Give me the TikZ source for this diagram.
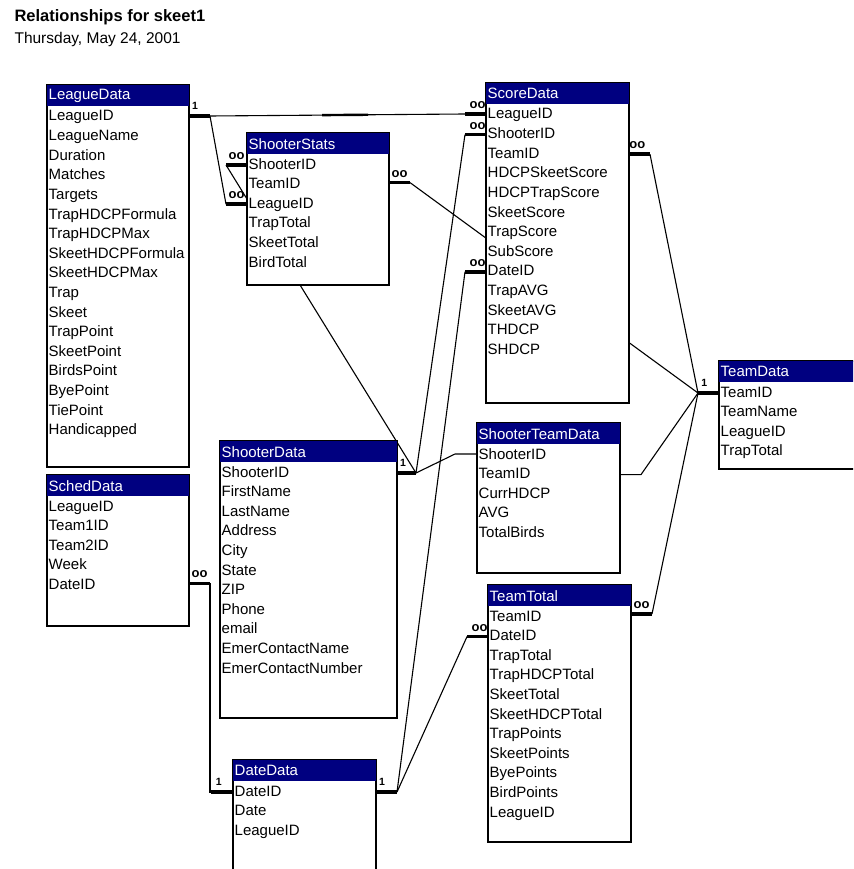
\documentclass[tikz,border=0pt]{standalone}
\usepackage{fontspec}
\setmainfont{Liberation Sans}
\usepackage{xcolor}
\usepackage{tikz}
\usetikzlibrary{calc}

\definecolor{accessnavy}{RGB}{0,0,128}

\pgfdeclarelayer{background}
\pgfsetlayers{background,main}

% table: name, x, y, width, height, title, fields
\newcommand{\dbtable}[7]{%
  \node[tablebox, minimum width=#4pt, minimum height=#5pt] (#1) at (#2,#3) {};
  \node[titlebar, text width=#4pt] (#1-title) at (#1.north west) {\hspace{1.5pt}#6};
  \foreach \fld [count=\i] in {#7}
    \node[field] (#1-\i) at ($(#1.north west)+(1.5,{32+19.6*(\i-1)})$) {\fld};
}

\begin{document}
\begin{tikzpicture}[x=1pt, y=-1pt,
  tablebox/.style={draw, line width=1.4pt, fill=white, anchor=north west, inner sep=0pt, outer sep=0pt},
  titlebar/.style={fill=accessnavy, text=white, anchor=north west, inner xsep=0pt, inner ysep=0pt,
    minimum height=21pt, align=left, font=\fontsize{15}{17}\selectfont},
  field/.style={anchor=west, inner sep=0pt, text height=11pt, text depth=3pt, font=\fontsize{15}{17}\selectfont},
  stub/.style={line width=3.5pt},
  rel/.style={line width=1.1pt},
  onemark/.style={inner sep=0pt, font=\bfseries\fontsize{10.5}{11}\selectfont},
  manymark/.style={inner sep=0pt, font=\bfseries\fontsize{13}{13}\selectfont}]

\useasboundingbox (0,0) rectangle (853,869);
\clip (0,0) rectangle (853,869);

% --- heading ---
\node[anchor=base west, font=\bfseries\fontsize{16.5}{18}\selectfont] (heading) at (11,22) {Relationships for skeet1};
\node[anchor=base west, font=\fontsize{15.5}{18}\selectfont] (printdate) at (11,44) {Thursday, May 24, 2001};

% --- tables ---
\dbtable{leaguedata}{47}{85}{142}{382}{LeagueData}{LeagueID, LeagueName, Duration, Matches, Targets,
  TrapHDCPFormula, TrapHDCPMax, SkeetHDCPFormula, SkeetHDCPMax, Trap, Skeet, TrapPoint, SkeetPoint,
  BirdsPoint, ByePoint, TiePoint, Handicapped}
\dbtable{shooterstats}{247}{133}{142}{152}{ShooterStats}{ShooterID, TeamID, LeagueID, TrapTotal, SkeetTotal, BirdTotal}
\dbtable{scoredata}{486}{83}{143}{320}{ScoreData}{LeagueID, ShooterID, TeamID, HDCPSkeetScore, HDCPTrapScore,
  SkeetScore, TrapScore, SubScore, DateID, TrapAVG, SkeetAVG, THDCP, SHDCP}
\dbtable{teamdata}{719}{361}{143}{108}{TeamData}{TeamID, TeamName, LeagueID, TrapTotal}
\dbtable{shooterteam}{477}{423}{143}{150}{ShooterTeamData}{ShooterID, TeamID, CurrHDCP, AVG, TotalBirds}
\dbtable{scheddata}{47}{475}{142}{151}{SchedData}{LeagueID, Team1ID, Team2ID, Week, DateID}
\dbtable{shooterdata}{220}{441}{177}{277}{ShooterData}{ShooterID, FirstName, LastName, Address, City, State,
  ZIP, Phone, email, EmerContactName, EmerContactNumber}
\dbtable{datedata}{233}{760}{143}{140}{DateData}{DateID, Date, LeagueID}
\dbtable{teamtotal}{488}{585}{143}{257}{TeamTotal}{TeamID, DateID, TrapTotal, TrapHDCPTotal, SkeetTotal,
  SkeetHDCPTotal, TrapPoints, SkeetPoints, ByePoints, BirdPoints, LeagueID}

% --- stub ends ---
\coordinate (lg-a) at ($(leaguedata.east |- leaguedata-1)+(0,-1)$);
\coordinate (lg-b) at ($(lg-a)+(21,0)$);
\coordinate (sc1-a) at ($(scoredata.west |- scoredata-1)+(0,-1)$);
\coordinate (sc1-b) at ($(sc1-a)+(-21,0)$);
\coordinate (sc2-a) at (scoredata.west |- scoredata-2);
\coordinate (sc2-b) at ($(sc2-a)+(-21,0)$);
\coordinate (sc9-a) at (scoredata.west |- scoredata-9);
\coordinate (sc9-b) at ($(sc9-a)+(-21,0)$);
\coordinate (sc3-a) at (scoredata.east |- scoredata-3);
\coordinate (sc3-b) at ($(sc3-a)+(21,0)$);
\coordinate (ss1-a) at (shooterstats.west |- shooterstats-1);
\coordinate (ss1-b) at ($(ss1-a)+(-21,0)$);
\coordinate (ss3-a) at (shooterstats.west |- shooterstats-3);
\coordinate (ss3-b) at ($(ss3-a)+(-21,0)$);
\coordinate (ss2-a) at ($(shooterstats.east |- shooterstats-2)+(0,-2)$);
\coordinate (ss2-b) at ($(ss2-a)+(21,0)$);
\coordinate (td-a) at (teamdata.west |- teamdata-1);
\coordinate (td-b) at ($(td-a)+(-21,0)$);
\coordinate (sd-a) at (shooterdata.east |- shooterdata-1);
\coordinate (sd-b) at ($(sd-a)+(19,0)$);
\coordinate (tt1-a) at ($(teamtotal.east |- teamtotal-1)+(0,-3)$);
\coordinate (tt1-b) at ($(tt1-a)+(21,0)$);
\coordinate (tt2-a) at (teamtotal.west |- teamtotal-2);
\coordinate (tt2-b) at ($(tt2-a)+(-21,0)$);
\coordinate (dr-a) at (datedata.east |- datedata-1);
\coordinate (dr-b) at ($(dr-a)+(21,0)$);
\coordinate (dl-a) at (datedata.west |- datedata-1);
\coordinate (dl-b) at ($(dl-a)+(-22,0)$);
\coordinate (sh5-a) at ($(scheddata.east |- scheddata-5)+(0,-2)$);
\coordinate (sh5-b) at ($(sh5-a)+(21,0)$);
\coordinate (stm-l) at ($(shooterteam.west |- shooterteam-1)+(-22,-1)$);
\coordinate (stm-r) at ($(shooterteam.east |- shooterteam-2)+(21,0)$);

% --- relationship lines (behind the tables) ---
\begin{pgfonlayer}{background}
\fill[white] (0,0) rectangle (853,869);

\draw[rel] (lg-b) -- (sc1-b);
\draw[line width=2.4pt] ($(lg-b)!0.44!(sc1-b)$) -- ($(lg-b)!0.62!(sc1-b)$); % heavier piece on it
\draw[rel] (lg-b) -- (ss3-b);
\draw[rel] (sd-b) -- (ss1-b);
\draw[rel] (sd-b) -- (sc2-b);
\draw[rel] (sd-b) -- (stm-l) -- (shooterteam.west |- stm-l);
\draw[rel] (ss2-b) -- (td-b);
\draw[rel] (sc3-b) -- (td-b);
\draw[rel] (shooterteam.east |- shooterteam-2) -- (stm-r) -- (td-b);
\draw[rel] (tt1-b) -- (td-b);
\draw[rel] (dr-b) -- (sc9-b);
\draw[rel] (dr-b) -- (tt2-b);
\draw[rel] (sh5-b) -- (sh5-b |- dl-b) -- (dl-b);

% stubs
\draw[stub] (lg-a) -- (lg-b);
\draw[stub] (sc1-a) -- (sc1-b);
\draw[stub] (sc2-a) -- (sc2-b);
\draw[stub] (sc9-a) -- (sc9-b);
\draw[stub] (sc3-a) -- (sc3-b);
\draw[stub] (ss1-a) -- (ss1-b);
\draw[stub] (ss3-a) -- (ss3-b);
\draw[stub] (ss2-a) -- (ss2-b);
\draw[stub] (td-a) -- (td-b);
\draw[stub] (sd-a) -- (sd-b);
\draw[stub] (tt1-a) -- (tt1-b);
\draw[stub] (tt2-a) -- (tt2-b);
\draw[stub] (dr-a) -- (dr-b);
\draw[stub] (dl-a) -- (dl-b);
\draw[stub] (sh5-a) -- (sh5-b);
\end{pgfonlayer}

% --- one / many marks ---
\node[onemark] (lg-one) at ($(lg-a)+(6,-10)$) {1};
\node[onemark] (td-one) at ($(td-a)!0.7!(td-b)+(0,-10)$) {1};
\node[onemark] (sd-one) at ($(sd-a)+(6,-10)$) {1};
\node[onemark] (dr-one) at ($(dr-a)+(6,-10)$) {1};
\node[onemark] (dl-one) at ($(dl-a)!0.65!(dl-b)+(0,-10)$) {1};

\node[manymark] (sc1-many) at ($(sc1-a)!0.4!(sc1-b)+(0,-9)$) {oo};
\node[manymark] (sc2-many) at ($(sc2-a)!0.4!(sc2-b)+(0,-9)$) {oo};
\node[manymark] (sc9-many) at ($(sc9-a)!0.4!(sc9-b)+(0,-9)$) {oo};
\node[manymark] (sc3-many) at ($(sc3-a)!0.4!(sc3-b)+(0,-9)$) {oo};
\node[manymark] (ss1-many) at ($(ss1-a)!0.5!(ss1-b)+(0,-9)$) {oo};
\node[manymark] (ss3-many) at ($(ss3-a)!0.5!(ss3-b)+(0,-9)$) {oo};
\node[manymark] (ss2-many) at ($(ss2-a)!0.5!(ss2-b)+(0,-9)$) {oo};
\node[manymark] (tt1-many) at ($(tt1-a)!0.5!(tt1-b)+(0,-9)$) {oo};
\node[manymark] (tt2-many) at ($(tt2-a)!0.4!(tt2-b)+(0,-9)$) {oo};
\node[manymark] (sh5-many) at ($(sh5-a)!0.5!(sh5-b)+(0,-9)$) {oo};

\end{tikzpicture}
\end{document}
